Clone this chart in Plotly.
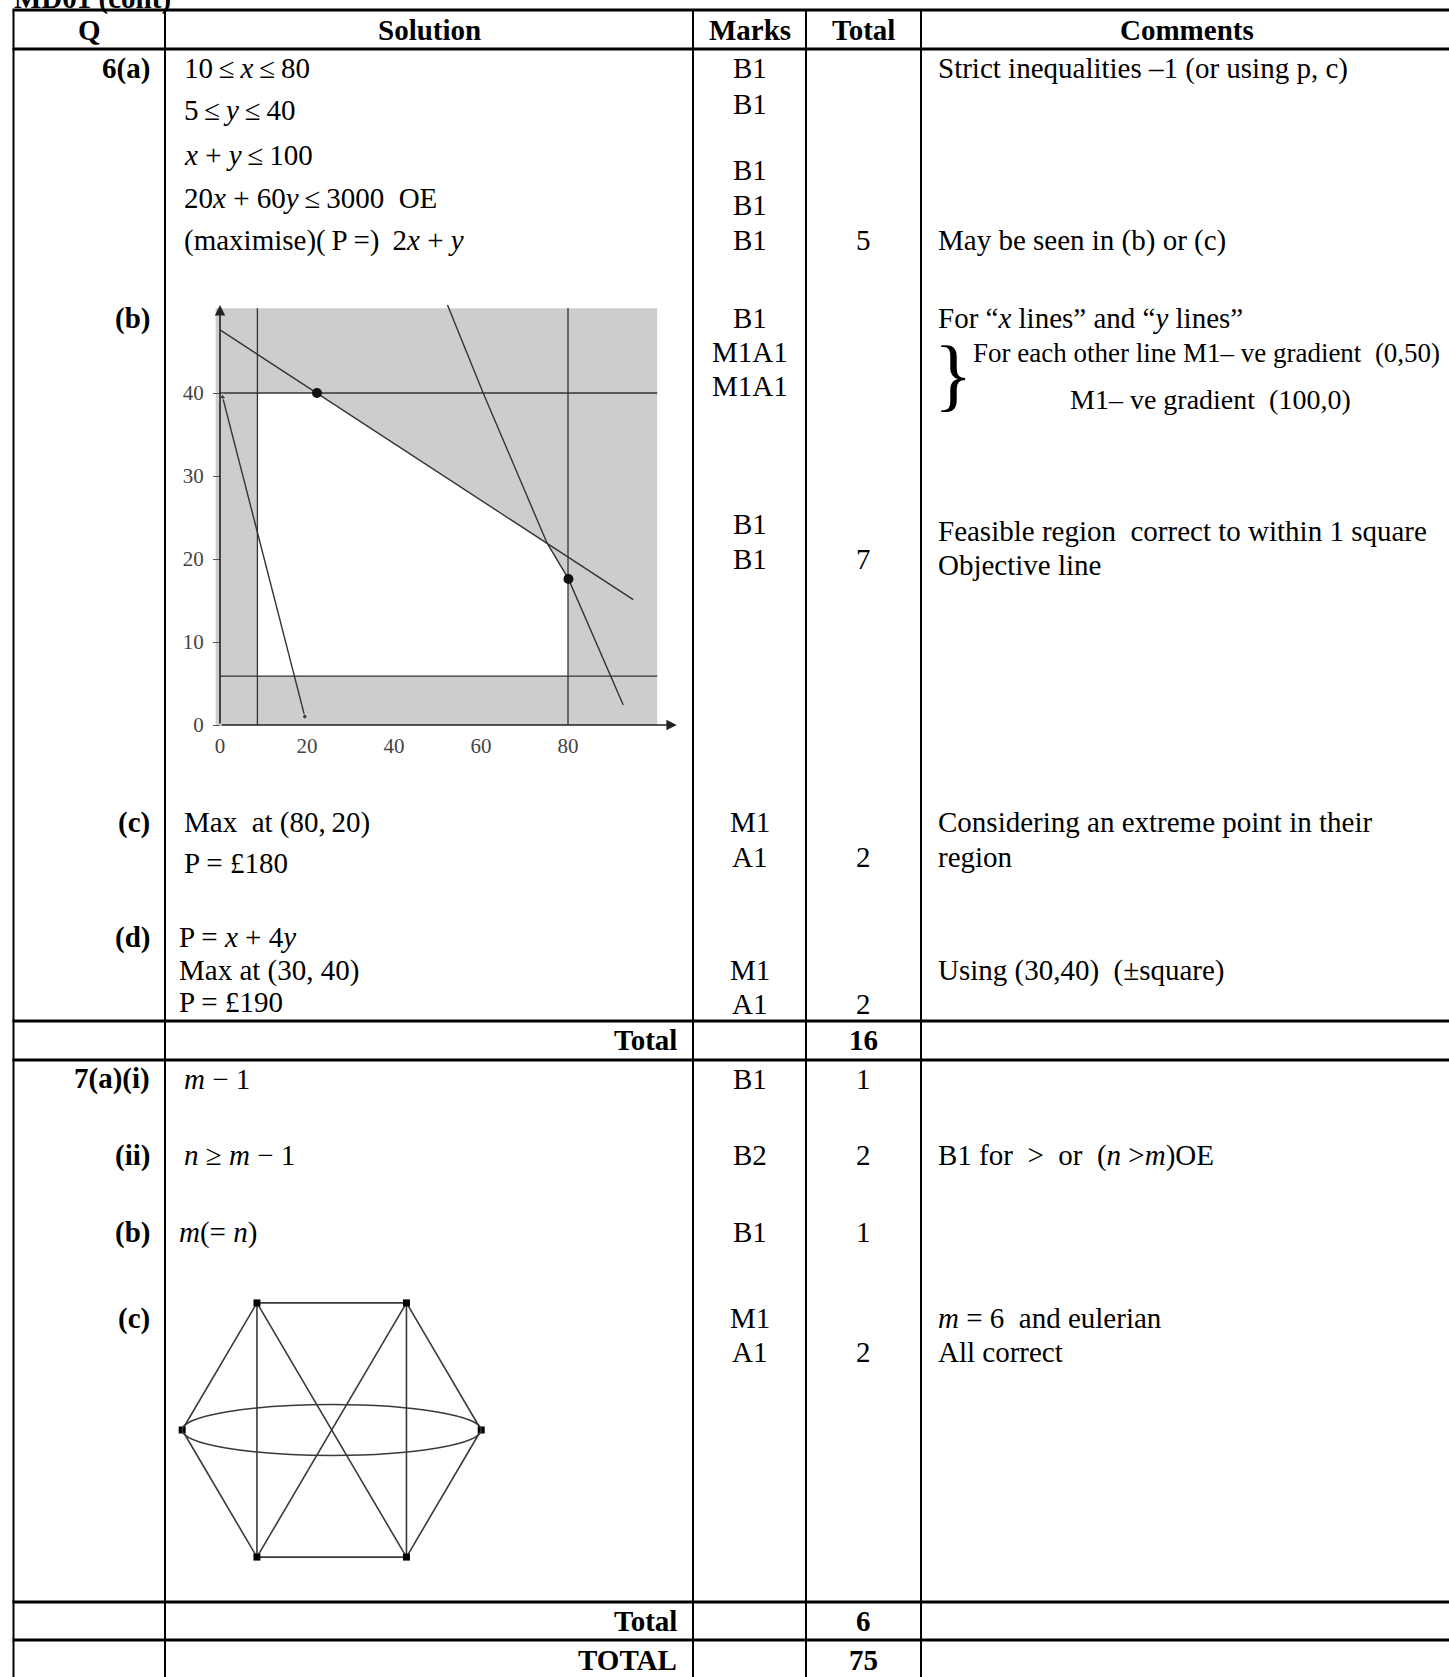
import plotly.graph_objects as go

W, H = 1449, 1677
SERIF = "Liberation Serif, Times New Roman, serif"

# ------------------------------------------------------------------ data
TITLE = "MD01 (cont)"
HEADERS = ["Q", "Solution", "Marks", "Total", "Comments"]

Q_LABELS = ["6(a)", "(b)", "(c)", "(d)", "7(a)(i)", "(ii)", "(b)", "(c)"]

SOLUTION_LINES = [
    "10\u2009≤\u2009<i>x</i>\u2009≤\u200980",
    "5\u2009≤\u2009<i>y</i>\u2009≤\u200940",
    "<i>x</i> + <i>y</i>\u2009≤\u2009100",
    "20<i>x</i> + 60<i>y</i>\u2009≤\u20093000\u00a0\u00a0OE",
    "(maximise)(\u2009P\u2009=) \u20092<i>x</i> + <i>y</i>",
    "Max\u00a0\u00a0at (80,\u200920)",
    "P = £180",
    "P = <i>x</i> + 4<i>y</i>",
    "Max at (30, 40)",
    "P = £190",
    "<i>m</i> \u2212 1",
    "<i>n</i> ≥ <i>m</i> \u2212 1",
    "<i>m</i>(= <i>n</i>)",
]

MARKS = ["B1", "B1", "B1", "B1", "B1",
         "B1", "M1A1", "M1A1", "B1", "B1",
         "M1", "A1", "M1", "A1",
         "B1", "B2", "B1", "M1", "A1"]

TOTALS = ["5", "7", "2", "2", "1", "2", "1", "2"]

COMMENTS = [
    "Strict inequalities \u20131 (or using p, c)",
    "May be seen in (b) or (c)",
    "For \u201c<i>x</i> lines\u201d and \u201c<i>y</i> lines\u201d",
    "For each other line M1\u2013 ve gradient \u00a0(0,50)",
    "M1\u2013 ve gradient \u00a0(100,0)",
    "Feasible region \u00a0correct to within 1 square",
    "Objective line",
    "Considering an extreme point in their",
    "region",
    "Using (30,40) \u00a0(\u00b1square)",
    "B1 for \u00a0>\u00a0 or \u00a0(<i>n</i> ><i>m</i>)OE",
    "<i>m</i> = 6 \u00a0and eulerian",
    "All correct",
]

TOTAL_LABELS = ["Total", "Total", "TOTAL"]
TOTAL_VALUES = ["16", "6", "75"]

# chart in 6(b)
X_TICKS = [0, 20, 40, 60, 80]
Y_TICKS = [0, 10, 20, 30, 40]
SHADE_X = [-1, 100.5]
SHADE_Y = [0, 50.2]
X_LINES = [8.6, 80]
Y_LINES = [40, 5.9]
LINE1_X = [0, 95]
LINE1_Y = [47.6, 15.1]
LINE2_X = [52.3, 60.5, 75.2, 80.1, 92.7]
LINE2_Y = [50.6, 40.0, 21.9, 17.6, 2.4]
OBJ_X = [0.6, 19.5]
OBJ_Y = [39.5, 1.0]
VERTEX_X = [22.3, 80.1]
VERTEX_Y = [40.0, 17.6]
FEAS_X = [8.6, 80, 80, 75.2, 22.3, 8.6]
FEAS_Y = [5.9, 5.9, 17.6, 21.9, 40.0, 40.0]
X_AXIS_END = 105
Y_AXIS_END = 50.6

# graph in 7(c)
NODE_X = [-1, -0.5, 0.5, 1, 0.5, -0.5]
NODE_Y = [0, 0.85, 0.85, 0, -0.85, -0.85]
EDGES = [(1, 2), (5, 4), (1, 5), (2, 4), (0, 1), (0, 5),
         (3, 2), (3, 4), (1, 4), (2, 5)]
LOOP_HALF_HEIGHT = 0.17   # the double edge between nodes 0 and 3

# ------------------------------------------------------------------ layout geometry
COL_X = [13.5, 165, 693, 806, 921, 1453]
TOP_Y = 10
HEAD_BOTTOM = 49
ROW_LINES = [1021, 1060, 1602, 1640]
HEADER_Y = 30
HEADER_X = [89, 429, 750, 863, 1187]
Q_RIGHT = 152
Q_Y = [68, 318, 822, 937, 1078, 1155, 1232, 1318]
SOL_X = [182] * 7 + [177] * 3 + [182, 182, 177]
SOL_Y = [68, 110, 155, 198, 240, 822, 863, 937, 970, 1002, 1079, 1155, 1232]
MARK_X = 749.5
MARK_Y = [68, 104, 170, 205, 240, 318, 352, 386, 524, 559,
          822, 857, 970, 1004, 1079, 1155, 1232, 1318, 1352]
TOT_X = 863.5
TOT_Y = [240, 559, 857, 1004, 1079, 1155, 1232, 1352]
COM_X = [936, 936, 936, 971, 1068, 936, 936, 936, 936, 936, 936, 936, 936]
COM_Y = [68, 240, 318, 353, 399, 531, 565, 822, 857, 970, 1155, 1318, 1352]
COM_SIZE = [29, 29, 29, 27, 28, 29, 29, 29, 29, 29, 29, 29, 29]
TOTAL_ROW_Y = [1040, 1621, 1660]
TOTAL_LABEL_RIGHT = 679

FS = 29


def px(p):
    return p / W


def py(p):
    return 1 - p / H


fig = go.Figure()

# base (page) axes in pixel units
fig.add_trace(go.Scatter(x=[0], y=[0], mode="markers", marker=dict(opacity=0),
                         showlegend=False, hoverinfo="skip", xaxis="x", yaxis="y"))

annotations = []
shapes = []


def ann(text, x, y, xanchor="left", size=FS, color="black", **kw):
    annotations.append(dict(text=text, x=x, y=y, xref="x", yref="y",
                            xanchor=xanchor, yanchor="middle", showarrow=False,
                            font=dict(family=SERIF, size=size, color=color), **kw))


# title (cut off at the top of the page)
ann("<b>" + TITLE + "</b>", 12, 0, yshift=2)

# headers
for t, x in zip(HEADERS, HEADER_X):
    ann("<b>" + t + "</b>", x, HEADER_Y, "center")

for t, y in zip(Q_LABELS, Q_Y):
    ann("<b>" + t + "</b>", Q_RIGHT, y, "right")
for t, x, y in zip(SOLUTION_LINES, SOL_X, SOL_Y):
    ann(t, x, y, "left")
for t, y in zip(MARKS, MARK_Y):
    ann(t, MARK_X, y, "center")
for t, y in zip(TOTALS, TOT_Y):
    ann(t, TOT_X, y, "center")
for t, x, y, s in zip(COMMENTS, COM_X, COM_Y, COM_SIZE):
    ann(t, x, y, "left", size=s)
for lab, val, y in zip(TOTAL_LABELS, TOTAL_VALUES, TOTAL_ROW_Y):
    ann("<b>" + lab + "</b>", TOTAL_LABEL_RIGHT, y, "right")
    ann("<b>" + val + "</b>", TOT_X, y, "center")

# brace in the comments of 6(b)
ann("}", 953, 374, "center", size=80)

# table lines
for x in COL_X:
    shapes.append(dict(type="line", xref="x", yref="y", x0=x, x1=x, y0=TOP_Y, y1=H + 5,
                       line=dict(color="black", width=2)))
for y in [TOP_Y, HEAD_BOTTOM] + ROW_LINES:
    shapes.append(dict(type="line", xref="x", yref="y", x0=COL_X[0] - 1, x1=W + 5, y0=y, y1=y,
                       line=dict(color="black", width=3)))

# ------------------------------------------------------------------ chart 6(b)
BX0, BXS = 220, 4.35     # pixel of x=0, px per unit
BY0, BYS = 725, 8.3      # pixel of y=0, px per unit
BXR = [-3, 107]
BYR = [-3, 53]
LINE_COL = "#333333"

shapes.append(dict(type="rect", xref="x2", yref="y2", x0=SHADE_X[0], x1=SHADE_X[1],
                   y0=SHADE_Y[0], y1=SHADE_Y[1], fillcolor="#cdcdcd",
                   line=dict(width=0), layer="below"))

fig.add_trace(go.Scatter(x=FEAS_X, y=FEAS_Y, fill="toself", fillcolor="white",
                         mode="lines", line=dict(width=0), xaxis="x2", yaxis="y2",
                         showlegend=False, hoverinfo="skip"))

for xv in X_LINES:
    fig.add_trace(go.Scatter(x=[xv, xv], y=SHADE_Y, mode="lines",
                             line=dict(color=LINE_COL, width=1.3), xaxis="x2", yaxis="y2",
                             showlegend=False, hoverinfo="skip"))
for yv in Y_LINES:
    fig.add_trace(go.Scatter(x=[0, SHADE_X[1]], y=[yv, yv], mode="lines",
                             line=dict(color=LINE_COL, width=1.3), xaxis="x2", yaxis="y2",
                             showlegend=False, hoverinfo="skip"))
for lx, ly in [(LINE1_X, LINE1_Y), (LINE2_X, LINE2_Y), (OBJ_X, OBJ_Y)]:
    fig.add_trace(go.Scatter(x=lx, y=ly, mode="lines",
                             line=dict(color=LINE_COL, width=1.4), xaxis="x2", yaxis="y2",
                             showlegend=False, hoverinfo="skip"))
fig.add_trace(go.Scatter(x=OBJ_X, y=OBJ_Y, mode="markers",
                         marker=dict(color="#222", size=[7, 5], symbol=["triangle-up", "circle"]),
                         xaxis="x2", yaxis="y2", showlegend=False, hoverinfo="skip",
                         cliponaxis=False))
fig.add_trace(go.Scatter(x=VERTEX_X, y=VERTEX_Y, mode="markers",
                         marker=dict(color="#111", size=10), xaxis="x2", yaxis="y2",
                         showlegend=False, hoverinfo="skip", cliponaxis=False))

# axes with arrows
for (hx, hy) in [(0, Y_AXIS_END), (X_AXIS_END, 0)]:
    annotations.append(dict(x=hx, y=hy, ax=0, ay=0, xref="x2", yref="y2",
                            axref="x2", ayref="y2", text="", showarrow=True,
                            arrowhead=2, arrowsize=1.3, arrowwidth=1.6, arrowcolor="#222"))

# ------------------------------------------------------------------ graph 7(c)
CCX, CCY, CS = 331.7, 1430, 149.5
CXR = [-1.15, 1.15]
CYR = [-1.0, 1.0]
ex, ey = [], []
for a, b in EDGES:
    ex += [NODE_X[a], NODE_X[b], None]
    ey += [NODE_Y[a], NODE_Y[b], None]
fig.add_trace(go.Scatter(x=ex, y=ey, mode="lines", line=dict(color="#3a3a3a", width=1.6),
                         xaxis="x3", yaxis="y3", showlegend=False, hoverinfo="skip"))
shapes.append(dict(type="circle", xref="x3", yref="y3", x0=NODE_X[0], x1=NODE_X[3],
                   y0=-LOOP_HALF_HEIGHT, y1=LOOP_HALF_HEIGHT,
                   line=dict(color="#3a3a3a", width=1.5)))
fig.add_trace(go.Scatter(x=NODE_X, y=NODE_Y, mode="markers",
                         marker=dict(color="black", size=7, symbol="square"),
                         xaxis="x3", yaxis="y3", showlegend=False, hoverinfo="skip",
                         cliponaxis=False))

hidden = dict(visible=False, showgrid=False, zeroline=False, fixedrange=True)
tickfont = dict(family=SERIF, size=21, color="#444")

fig.update_layout(
    width=W, height=H,
    margin=dict(l=0, r=0, t=0, b=0),
    paper_bgcolor="white", plot_bgcolor="rgba(0,0,0,0)",
    showlegend=False,
    xaxis=dict(range=[0, W], domain=[0, 1], **hidden),
    yaxis=dict(range=[H, 0], domain=[0, 1], **hidden),
    xaxis2=dict(domain=[px(BX0 + BXR[0] * BXS), px(BX0 + BXR[1] * BXS)], range=BXR,
                anchor="free", position=py(BY0), showgrid=False, zeroline=False,
                showline=False, tickvals=X_TICKS, ticks="", tickfont=tickfont,
                ticklabelstandoff=6, fixedrange=True),
    yaxis2=dict(domain=[py(BY0 - BYR[0] * BYS), py(BY0 - BYR[1] * BYS)], range=BYR,
                anchor="free", position=px(BX0), showgrid=False, zeroline=False,
                showline=False, tickvals=Y_TICKS, ticks="outside", ticklen=7,
                tickcolor="#555", tickfont=tickfont, ticklabelstandoff=5,
                fixedrange=True),
    xaxis3=dict(domain=[px(CCX + CXR[0] * CS), px(CCX + CXR[1] * CS)], range=CXR,
                anchor="y3", **hidden),
    yaxis3=dict(domain=[py(CCY - CYR[0] * CS), py(CCY - CYR[1] * CS)], range=CYR,
                anchor="x3", **hidden),
    annotations=annotations,
    shapes=shapes,
)

fig.write_html("out.html", config={"displayModeBar": False},
               post_script="document.body.style.margin='0';")
